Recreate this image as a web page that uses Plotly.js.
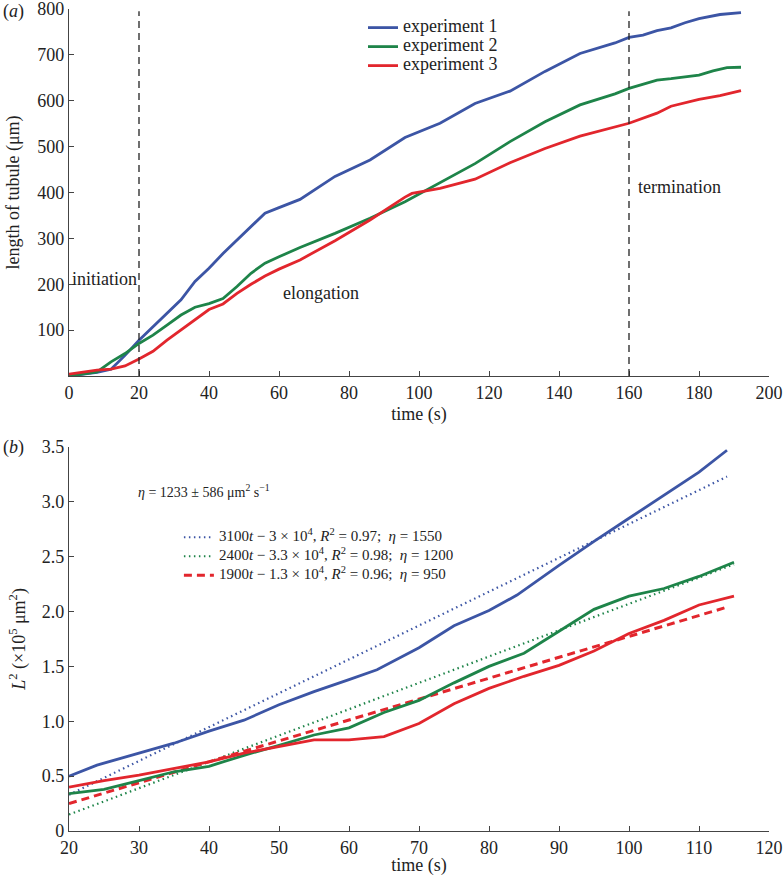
<!DOCTYPE html>
<html>
<head>
<meta charset="utf-8">
<script src="https://cdn.plot.ly/plotly-3.0.1.min.js"></script>
<style>
  html, body { margin: 0; padding: 0; background: #fff; }
  #chart { width: 784px; height: 876px; }
</style>
</head>
<body>
<div id="chart"></div>
<script>
// Panel (a): length of tubule against time, three experiments
const TimeExp1 = [0, 8, 12, 16, 20, 24, 28, 32, 36, 40, 44, 50, 56, 60, 66, 76, 86, 96, 106, 116, 126, 136, 146, 156, 160, 164, 168, 172, 176, 180, 186, 192];
const LenExp1 = [0, 8, 15, 45, 78, 107, 137, 166, 206, 235, 267, 310, 355, 367, 385, 435, 471, 520, 551, 594, 621, 664, 703, 726, 738, 743, 753, 759, 770, 779, 788, 792];

const TimeExp2 = [0, 8, 12, 16, 20, 24, 28, 32, 36, 40, 44, 48, 52, 56, 60, 66, 76, 86, 96, 106, 116, 126, 136, 146, 156, 160, 168, 172, 180, 184, 188, 192];
const LenExp2 = [0, 9, 31, 49, 71, 89, 111, 133, 150, 158, 169, 195, 224, 246, 260, 280, 311, 344, 380, 421, 463, 511, 554, 591, 615, 627, 645, 648, 656, 665, 672, 673];

const TimeExp3 = [0, 8, 12, 16, 20, 24, 28, 32, 36, 40, 44, 48, 52, 56, 60, 66, 76, 86, 96, 98, 106, 116, 126, 136, 146, 160, 168, 172, 180, 186, 192];
const LenExp3 = [4, 13, 15, 22, 37, 54, 78, 100, 121, 145, 157, 180, 200, 218, 233, 253, 295, 340, 390, 398, 409, 429, 465, 496, 523, 551, 573, 588, 603, 611, 622];

// Phase boundaries (s)
const PhaseLines = [20, 160];

// Panel (b): L^2 (x10^5 um^2) against time
const TimeSq = [20, 25, 30, 35, 40, 45, 50, 55, 60, 65, 70, 75, 80, 85, 90, 95, 100, 105, 110, 115];
const TimeSq1 = [20, 24, 30, 35, 40, 45, 50, 55, 60, 64, 70, 75, 80, 84, 90, 95, 100, 105, 110, 114];
const SqExp1 = [0.50, 0.60, 0.71, 0.80, 0.91, 1.01, 1.15, 1.27, 1.38, 1.47, 1.67, 1.87, 2.01, 2.15, 2.42, 2.64, 2.85, 3.06, 3.27, 3.47];
const SqExp2 = [0.34, 0.38, 0.46, 0.54, 0.59, 0.69, 0.78, 0.875, 0.94, 1.08, 1.19, 1.35, 1.50, 1.62, 1.82, 2.02, 2.14, 2.21, 2.32, 2.45];
const SqExp3 = [0.40, 0.46, 0.51, 0.57, 0.63, 0.71, 0.77, 0.83, 0.83, 0.86, 0.98, 1.16, 1.30, 1.41, 1.51, 1.64, 1.80, 1.92, 2.06, 2.14];

// Fitted straight lines, end points
const FitTime1 = [20, 114];
const FitVal1 = [0.33, 3.23];
const FitTime2 = [20, 115];
const FitVal2 = [0.15, 2.43];
const FitTime3 = [20, 114];
const FitVal3 = [0.25, 2.04];

const FitLabels = [
    '3100<i>t</i> − 3 × 10<sup>4</sup>, <i>R</i><sup>2</sup> = 0.97;  <i>η</i> = 1550',
    '2400<i>t</i> − 3.3 × 10<sup>4</sup>, <i>R</i><sup>2</sup> = 0.98;  <i>η</i> = 1200',
    '1900<i>t</i> − 1.3 × 10<sup>4</sup>, <i>R</i><sup>2</sup> = 0.96;  <i>η</i> = 950'
];
const ExpLabels = ['experiment 1', 'experiment 2', 'experiment 3'];

// Colours
const Blue = '#3c55a5';
const Green = '#1e8449';
const Red = '#e2262d';
const Serif = '"Liberation Serif", "Times New Roman", serif';

const PlotlyConfig = {
    displayModeBar: false,
    staticPlot: true
};

// legend text is drawn larger than the legend font so the rows stay tight
function bigText(text, size) {
    return '<span style="font-size:' + size + 'px">' + text + '</span>';
}

function solid(x, y, color, name, axis, show) {
    return {
        x: x, y: y,
        xaxis: 'x' + axis, yaxis: 'y' + axis,
        type: 'scatter', mode: 'lines',
        name: name, showlegend: show,
        line: { color: color, width: 2.8 },
        hoverinfo: 'none'
    };
}

function fitLine(x, y, color, dash, width, name) {
    return {
        x: x, y: y,
        xaxis: 'x2', yaxis: 'y2',
        type: 'scatter', mode: 'lines',
        name: name, legend: 'legend2',
        line: { color: color, width: width, dash: dash },
        hoverinfo: 'none'
    };
}

var traces = [
    solid(TimeExp1, LenExp1, Blue, bigText(ExpLabels[0], 18), '', true),
    solid(TimeExp2, LenExp2, Green, bigText(ExpLabels[1], 18), '', true),
    solid(TimeExp3, LenExp3, Red, bigText(ExpLabels[2], 18), '', true),
    fitLine(FitTime1, FitVal1, Blue, '1.5px,3.5px', 2.2, bigText(FitLabels[0], 15)),
    fitLine(FitTime2, FitVal2, Green, '1.5px,3.5px', 2.2, bigText(FitLabels[1], 15)),
    fitLine(FitTime3, FitVal3, Red, '8px,5px', 3, bigText(FitLabels[2], 15)),
    solid(TimeSq1, SqExp1, Blue, '', '2', false),
    solid(TimeSq, SqExp2, Green, '', '2', false),
    solid(TimeSq, SqExp3, Red, '', '2', false)
];

// Dashed vertical phase lines
var shapes = PhaseLines.map(function (t) {
    return {
        type: 'line', xref: 'x', yref: 'y',
        x0: t, x1: t, y0: 0, y1: 795,
        line: { color: '#222', width: 1.3, dash: '7px,5px' }
    };
});

var axisBase = {
    showline: true, linecolor: '#444', linewidth: 1.2,
    ticks: 'inside', ticklen: 5, tickcolor: '#444',
    showgrid: false, zeroline: false, mirror: false,
    tickfont: { family: Serif, size: 18, color: '#222' },
    ticklabeloverflow: 'allow',
    fixedrange: true
};

function axis(extra) {
    return Object.assign({}, axisBase, extra);
}

var tickY2 = [0, 0.5, 1, 1.5, 2, 2.5, 3, 3.5];

var layout = {
    width: 784,
    height: 876,
    margin: { l: 69, r: 15, t: 9, b: 45 },
    paper_bgcolor: '#fff',
    plot_bgcolor: '#fff',
    font: { family: Serif, color: '#222' },
    xaxis: axis({
        domain: [0, 1], anchor: 'y', range: [0, 200],
        tickvals: [0, 20, 40, 60, 80, 100, 120, 140, 160, 180, 200],
        title: { text: 'time (s)', font: { family: Serif, size: 18 }, standoff: 5 }
    }),
    yaxis: axis({
        domain: [0.5535, 1], anchor: 'x', range: [0, 800],
        tickvals: [100, 200, 300, 400, 500, 600, 700, 800],
        title: { text: 'length of tubule (μm)', font: { family: Serif, size: 18 }, standoff: 12 }
    }),
    xaxis2: axis({
        domain: [0, 1], anchor: 'y2', range: [20, 120],
        tickvals: [20, 30, 40, 50, 60, 70, 80, 90, 100, 110, 120],
        title: { text: 'time (s)', font: { family: Serif, size: 18 }, standoff: 6 }
    }),
    yaxis2: axis({
        domain: [0, 0.4672], anchor: 'x2', range: [0, 3.5],
        tickvals: tickY2,
        ticktext: tickY2.map(function (v) { return v === 0 ? '0' : v.toFixed(1); }),
        title: { text: '<i>L</i><sup>2</sup> (×10<sup>5</sup> μm<sup>2</sup>)', font: { family: Serif, size: 18 }, standoff: 11 }
    }),
    legend: {
        x: 0.42, xanchor: 'left', y: 0.995, yanchor: 'top',
        bgcolor: 'rgba(0,0,0,0)',
        font: { family: Serif, size: 11, color: '#222' },
        tracegroupgap: 0
    },
    legend2: {
        x: 0.157, xanchor: 'left', y: 0.375, yanchor: 'top',
        bgcolor: 'rgba(0,0,0,0)',
        font: { family: Serif, size: 10.5, color: '#222' },
        tracegroupgap: 0
    },
    shapes: shapes,
    annotations: [
        { xref: 'x', yref: 'y', x: 20, y: 211, xanchor: 'right', text: 'initiation', showarrow: false, font: { family: Serif, size: 18 } },
        { xref: 'x', yref: 'y', x: 72, y: 181, text: 'elongation', showarrow: false, font: { family: Serif, size: 18 } },
        { xref: 'x', yref: 'y', x: 162, y: 412, xanchor: 'left', text: 'termination', showarrow: false, font: { family: Serif, size: 18 } },
        { xref: 'x2', yref: 'y2', x: 29.6, y: 3.1, xanchor: 'left', text: '<i>η</i> = 1233 ± 586 μm<sup>2</sup> s<sup>−1</sup>', showarrow: false, font: { family: Serif, size: 14 } },
        { xref: 'paper', yref: 'paper', x: -0.097, y: 0.997, xanchor: 'left', yanchor: 'middle', text: '(<i>a</i>)', showarrow: false, font: { family: Serif, size: 18 } },
        { xref: 'paper', yref: 'paper', x: -0.097, y: 0.467, xanchor: 'left', yanchor: 'middle', text: '(<i>b</i>)', showarrow: false, font: { family: Serif, size: 18 } }
    ]
};

Plotly.newPlot('chart', traces, layout, PlotlyConfig);
</script>
</body>
</html>
